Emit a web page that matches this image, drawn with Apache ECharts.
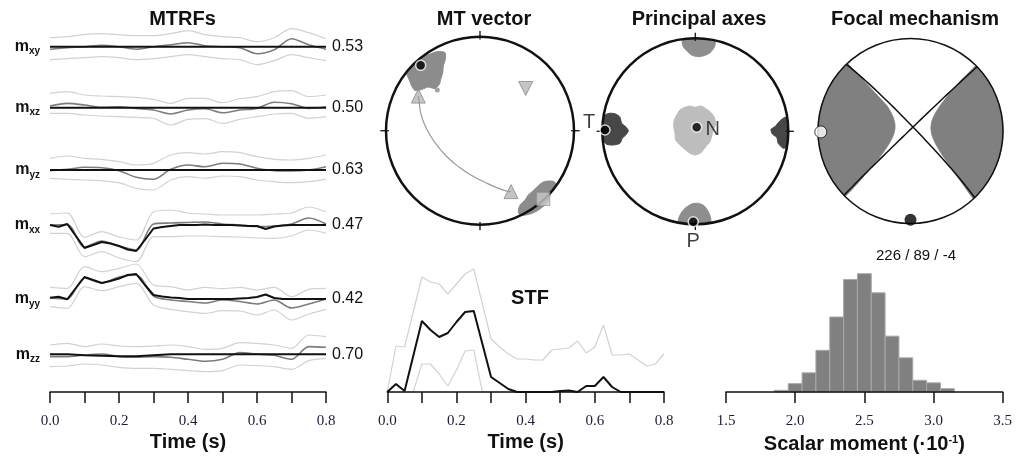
<!DOCTYPE html>
<html><head><meta charset="utf-8">
<script src="https://cdn.jsdelivr.net/npm/echarts@6.0.0/dist/echarts.min.js"></script>
<style>html,body{margin:0;padding:0;background:#fff}#c{width:1018px;height:464px}</style>
</head><body><div id="c"></div>
<script>
// ---------------- DATA ----------------
const timeCoarse = [0,0.05,0.1,0.15,0.2,0.25,0.3,0.35,0.4,0.45,0.5,0.55,0.6,0.65,0.7,0.75,0.8];
const timeFine = [0,0.025,0.05,0.075,0.1,0.125,0.15,0.175,0.2,0.225,0.25,0.275,0.3,0.325,0.35,0.375,0.4,0.425,0.45,0.475,0.5,0.525,0.55,0.575,0.6,0.625,0.65,0.675,0.7,0.725,0.75,0.775,0.8];
const timeTicks = [0,0.2,0.4,0.6,0.8];

const componentNames = ['xy','xz','yz','xx','yy','zz'];
const componentScores = ['0.53','0.50','0.63','0.47','0.42','0.70'];

const mxyTrue  = [0,0,0,0,0,0,0,0,0,0,0,0,0,0,0,0,0];
const mxyMean  = [-2.5,-1,0,1.5,0,-2.5,0,2,4,1,0,-1,-7,-3,8,2,-2.5];
const mxyUpper = [9,10,12,13,12,11,11,13,16,12,10,9,5,9,18,14,8];
const mxyLower = [-13,-12,-11,-10,-11,-13,-12,-10,-8,-10,-12,-13,-18,-14,-8,-11,-14];

const mxzTrue  = [0,0,0,0,0,0,0,0,0,0,0,0,0,0,0,0,0];
const mxzMean  = [1.7,4.3,2.7,0.3,1,-0.7,-2.3,-6.3,-2.3,-1,-5,-2.3,-0.7,5.5,4,-0.7,1];
const mxzUpper = [14.3,16,12.7,11.7,11,10.3,8.3,4.3,9.3,9.3,5,9,11,16,17,11,12.7];
const mxzLower = [-5.7,-5.7,-7.3,-8.3,-9,-9.7,-10.7,-17.3,-11.7,-11,-15.7,-11.7,-9,-6.3,-5.7,-10.7,-9];

const myzTrue  = [0,0,0,0,0,0,0,0,0,0,0,0,0,0,0,0,0];
const myzMean  = [-0.7,0.7,2.7,2.3,-0.7,-7.3,-9.3,0.7,5,3.3,6.7,6,1.7,-0.7,-1,0,3.3];
const myzUpper = [11.7,14,11.7,10.7,8.3,5,6.7,15,17.3,16,18.3,17.3,13.3,10.7,10,11.7,15];
const myzLower = [-8.3,-9.3,-10,-10.7,-12.7,-18.3,-20,-10,-6.7,-8.3,-6,-6.7,-10,-11.7,-12.7,-11.7,-9.3];

const mxxTrue  = [0,-1.7,1,-11,-23,-20,-17,-18.5,-21,-24.5,-26,-15,-3.5,-2,-1,0,0,0,0.5,0,0,0,-0.5,-1,-1,-4,-1.5,-0.5,0,0,0,0,0];
const mxxMean  = [0,0.5,-22,-16,-21,-25,1,2,2.5,3,1,0,-1.5,-1,1,7,1];
const mxxUpper = [11,12,-12.3,-6.7,-12,-15,13,15,12,11,10,10,10,11,12,18,13];
const mxxLower = [-8.3,-8.3,-31.7,-26.7,-33,-36.7,-11.7,-11.7,-11,-11,-11.7,-12,-13,-13.3,-11,-5,-8.3];

const myyTrue  = [1.3,2.3,-0.3,11,22,19,16,18,20.5,24,25,14,4,2.5,1.5,1,0,0,0,0,0,0,0.5,1,2,4.5,1,0,0,0,0,0,0];
const myyMean  = [1,0,21,16,22,24,3,-1,-2.5,-4,-1,-2.5,-5,-1,-9,-5,0];
const myyUpper = [11.7,10.7,32.3,27.3,30.7,35,14,12.3,9,11.7,10.3,11.7,9,11.7,2.3,9.7,10.7];
const myyLower = [-7.7,-9.3,12.3,8.3,12.3,15.7,-6,-10.3,-12.7,-14.3,-11.7,-12,-16,-11,-21,-15,-10.3];

const mzzTrue  = [0,0,-1,-1.5,-2,-2,-1,0,0,0,0,0,0,0,0,0,0];
const mzzMean  = [-2.3,-2.3,-0.7,0.3,-2.3,-3,-2.3,-3,-5,-7,-5,1.7,0.3,-1,-5,7.7,7];
const mzzUpper = [9.3,11,7.7,10.3,8.3,7.7,8.3,9.3,7.7,5,6,11.7,11,9.3,6,19.3,17.7];
const mzzLower = [-12.3,-11.7,-9.7,-10.7,-13,-14,-14,-15,-16.3,-17.3,-16.3,-10.7,-11.3,-12.3,-15,-6.3,-4];

const stfMedian = [0,8,1,36,71,62,55,59,70,80,81,48,15,9,3,0,0,0,0,0,1,1.5,0,6,6,15,5,0,0,0,0,0,0];
const stfUpper  = [0,46,45,80,115,110,108,98,108,118,123,88,53,45,38,33,33,32,32,42,43,44,51,39,45,67,37,37,38,32,26,28,38];
const stfLower  = [0,0,0,0,28,28,18,6,22,41,42,0,0,0,0,0,0,0,0,0,0,0,0,0,0,0,0,0,0,0,0,0,0];

const momentBins   = [1.9,2.0,2.1,2.2,2.3,2.4,2.5,2.6,2.7,2.8,2.9,3.0,3.1];
const momentCounts = [4,20,46,100,180,270,284,238,134,82,28,22,8];
const momentTicks  = [1.5,2.0,2.5,3.0,3.5];

// MT vector panel (unit-disk coordinates)
const mtCloudA = [[-0.763,0.564],[-0.780,0.606],[-0.737,0.678],[-0.681,0.742],[-0.620,0.785],[-0.539,0.813],[-0.454,0.842],[-0.372,0.831],[-0.369,0.759],[-0.390,0.689],[-0.397,0.617],[-0.418,0.545],[-0.433,0.492],[-0.479,0.449],[-0.550,0.464],[-0.620,0.439],[-0.691,0.428],[-0.727,0.475],[-0.745,0.521]];
const mtCloudB = [[0.407,-0.856],[0.426,-0.791],[0.479,-0.738],[0.514,-0.684],[0.561,-0.642],[0.610,-0.595],[0.667,-0.549],[0.727,-0.535],[0.787,-0.541],[0.809,-0.578],[0.773,-0.631],[0.745,-0.684],[0.727,-0.749],[0.681,-0.798],[0.620,-0.845],[0.550,-0.880],[0.479,-0.898],[0.426,-0.898]];
const mtStray = [[-0.454,0.432]];
const mtBest = [[-0.631,0.695]];
const mtUpTriangles = [[-0.656,0.368],[0.330,-0.648]];
const mtDownTriangle = [[0.486,0.449]];
const mtSquare = [[0.673,-0.727]];
const mtArc = [[-0.656,0.368],[-0.646,0.296],[-0.631,0.189],[-0.596,0.082],[-0.539,-0.035],[-0.461,-0.150],[-0.354,-0.274],[-0.231,-0.381],[-0.088,-0.477],[0.053,-0.549],[0.178,-0.605],[0.284,-0.642],[0.330,-0.648]];

// Principal axes panel
const paPCloudTop = [[-0.140,0.974],[-0.129,0.910],[-0.082,0.856],[-0.039,0.820],[0.032,0.802],[0.104,0.817],[0.158,0.845],[0.204,0.903],[0.212,0.963],[0.104,0.995],[-0.003,1.0],[-0.092,0.996]];
const paPCloudBottom = [[-0.183,-0.961],[-0.154,-0.882],[-0.111,-0.828],[-0.039,-0.782],[0.032,-0.774],[0.097,-0.803],[0.140,-0.865],[0.166,-0.935],[0.158,-0.989],[0.069,-1.0],[-0.022,-1.0],[-0.111,-0.995]];
const paTCloudLeft = [[-0.971,0.175],[-0.917,0.194],[-0.856,0.186],[-0.810,0.151],[-0.792,0.086],[-0.748,0.049],[-0.720,0.006],[-0.748,-0.040],[-0.785,-0.075],[-0.810,-0.129],[-0.882,-0.147],[-0.953,-0.140],[-0.992,-0.094],[-1.0,0.014],[-0.992,0.122]];
const paTCloudRight = [[0.972,0.151],[0.929,0.129],[0.886,0.086],[0.857,0.049],[0.814,0.022],[0.828,-0.029],[0.875,-0.065],[0.892,-0.129],[0.946,-0.183],[0.985,-0.166],[1.0,-0.058],[1.0,0.049]];
const paNCloud = [[-0.165,0.229],[-0.111,0.258],[-0.057,0.272],[-0.003,0.258],[0.061,0.272],[0.123,0.237],[0.176,0.194],[0.204,0.151],[0.219,0.078],[0.194,0.014],[0.176,-0.051],[0.158,-0.112],[0.112,-0.166],[0.061,-0.230],[-0.003,-0.255],[-0.057,-0.237],[-0.111,-0.194],[-0.165,-0.147],[-0.211,-0.094],[-0.218,-0.022],[-0.232,0.049],[-0.226,0.122],[-0.200,0.175]];
const paAxes = [['T',-0.971,0.014],['N',0.015,0.043],['P',-0.022,-0.972]];

// Focal mechanism
const fmStrike = 226, fmDip = 89, fmRake = -4;
const fmNonDC = 0.08;
const fmTAxis = [[-0.97,-0.01]];
const fmPAxis = [[0.0,-0.96]];

// ---------------- HELPERS ----------------
const d2r = Math.PI/180;
const pairs = (t, v) => v.map((y,i)=>[t[i], y]);
const timeFor = v => v.length === timeFine.length ? timeFine : timeCoarse;
const dot = (a,b) => a[0]*b[0]+a[1]*b[1]+a[2]*b[2];
const norm = v => { const m = Math.hypot(v[0],v[1],v[2]); return v.map(x=>x/m); };

function faultVectors(strike, dip, rake){
  const f=strike*d2r, dl=dip*d2r, l=rake*d2r;
  const n=[-Math.sin(dl)*Math.sin(f), Math.sin(dl)*Math.cos(f), -Math.cos(dl)];
  const s=[Math.cos(l)*Math.cos(f)+Math.sin(l)*Math.cos(dl)*Math.sin(f),
           Math.cos(l)*Math.sin(f)-Math.sin(l)*Math.cos(dl)*Math.cos(f),
           -Math.sin(l)*Math.sin(dl)];
  const T=norm(n.map((x,i)=>x+s[i])), P=norm(n.map((x,i)=>x-s[i]));
  const B=[n[1]*s[2]-n[2]*s[1], n[2]*s[0]-n[0]*s[2], n[0]*s[1]-n[1]*s[0]];
  return {n,s,T,P,B};
}
function project(v){
  let [N,E,D]=v; if(D<0){N=-N;E=-E;D=-D;}
  const inc=Math.acos(Math.min(1,D)); const r=Math.SQRT2*Math.sin(inc/2);
  const h=Math.hypot(N,E)||1; return [r*E/h, r*N/h];
}
const dirAt = (az, inc) => [Math.sin(inc)*Math.cos(az), Math.sin(inc)*Math.sin(az), Math.cos(inc)];
function planeCurve(strike, dip){
  const s=strike*d2r, dl=dip*d2r, pts=[];
  const sv=[Math.cos(s),Math.sin(s),0];
  const dv=[Math.cos(dl)*Math.cos(s+Math.PI/2), Math.cos(dl)*Math.sin(s+Math.PI/2), Math.sin(dl)];
  for(let t=0;t<=180;t+=2){const th=t*d2r; pts.push(project(sv.map((x,i)=>Math.cos(th)*x+Math.sin(th)*dv[i])));}
  return pts;
}
function compressionPolygons(vec, lam){
  const amp=v=>lam[0]*dot(v,vec.T)**2+lam[1]*dot(v,vec.P)**2+lam[2]*dot(v,vec.B)**2;
  const edge=a=>amp(dirAt(a*d2r,Math.PI/2));
  let a0=0; while(edge(a0)>0 && a0<360) a0+=1;
  const polys=[]; let cur=null;
  for(let k=0;k<=360;k+=0.5){
    const a=a0+k;
    if(edge(a)>0){
      let lo=0, hi=Math.PI/2;
      if(amp(dirAt(a*d2r,0))>0) hi=0;
      else for(let it=0;it<40;it++){const m=(lo+hi)/2; if(amp(dirAt(a*d2r,m))>0) hi=m; else lo=m;}
      const r=Math.SQRT2*Math.sin(hi/2);
      if(!cur) cur={inner:[],az:[]};
      cur.inner.push([r*Math.sin(a*d2r), r*Math.cos(a*d2r)]); cur.az.push(a);
    } else if(cur){polys.push(cur);cur=null;}
  }
  if(cur) polys.push(cur);
  return polys.map(p=>p.inner.concat(p.az.slice().reverse().map(a=>[Math.sin(a*d2r),Math.cos(a*d2r)])));
}

// ---------------- LAYOUT ----------------
const rowBase = [46.7,107.7,170,225,299,354.3];
const rowHalf = 40;
const mtrf = [
  [mxyTrue,mxyMean,mxyUpper,mxyLower],[mxzTrue,mxzMean,mxzUpper,mxzLower],[myzTrue,myzMean,myzUpper,myzLower],
  [mxxTrue,mxxMean,mxxUpper,mxxLower],[myyTrue,myyMean,myyUpper,myyLower],[mzzTrue,mzzMean,mzzUpper,mzzLower]];

const ink='#111', tickColor='#1c1c3a';
const axisLine={show:true,lineStyle:{color:ink,width:1.5}};
const axisTick={show:true,length:11,lineStyle:{color:ink,width:1.5}};
const serifLabel={fontFamily:'Liberation Serif',fontSize:15,color:tickColor,margin:22};
const nameStyle={fontFamily:'Liberation Sans',fontSize:20,fontWeight:'bold',color:ink};

const grid=[], xAxis=[], yAxis=[], series=[];
const hidden = (g, min, max) => ({gridIndex:g,type:'value',min,max,show:false});

// rows
rowBase.forEach((b,i)=>{
  grid.push({left:50,width:276,top:b-rowHalf,height:rowHalf*2});
  xAxis.push(hidden(i,0,0.8));
});
rowBase.forEach((b,i)=>{
  yAxis.push({gridIndex:i,type:'value',min:-rowHalf,max:rowHalf,interval:rowHalf,
    axisLine:{show:false},axisTick:{show:false},splitLine:{show:false},
    axisLabel:{margin:10,formatter:v=>v===0?'{m|m}{s|'+componentNames[i]+'}':'',
      rich:{m:{fontFamily:'Liberation Sans',fontSize:16,fontWeight:'bold',color:ink,lineHeight:24,verticalAlign:'middle'},
            s:{fontFamily:'Liberation Sans',fontSize:10,fontWeight:'bold',color:ink,lineHeight:10,padding:[12,0,0,0],verticalAlign:'top'}}}});
});
rowBase.forEach((b,i)=>{
  yAxis.push({gridIndex:i,type:'value',position:'right',min:-rowHalf,max:rowHalf,interval:rowHalf,
    axisLine:{show:false},axisTick:{show:false},splitLine:{show:false},
    axisLabel:{margin:6,fontFamily:'Liberation Sans',fontSize:16,color:ink,formatter:v=>v===0?componentScores[i]:''}});
});
mtrf.forEach((r,i)=>{
  const [tr,mean,up,lo]=r;
  const common={type:'line',xAxisIndex:i,yAxisIndex:i,showSymbol:false,clip:false,silent:true,animation:false};
  series.push({...common,data:pairs(timeFor(up),up),smooth:0.3,lineStyle:{color:'#d2d2d2',width:1.2}});
  series.push({...common,data:pairs(timeFor(lo),lo),smooth:0.3,lineStyle:{color:'#d2d2d2',width:1.2}});
  series.push({...common,data:pairs(timeFor(mean),mean),smooth:0.3,lineStyle:{color:'#7c7c7c',width:1.6}});
  series.push({...common,data:pairs(timeFor(tr),tr),lineStyle:{color:ink,width:2}});
});

const timeLabel = v => timeTicks.some(t=>Math.abs(t-v)<1e-6) ? v.toFixed(1) : '';
// MTRF time axis (grid 6)
grid.push({left:50,width:276,top:380,height:12});
xAxis.push({gridIndex:6,type:'value',min:0,max:0.8,interval:0.1,z:10,axisLine,axisTick,splitLine:{show:false},
  axisLabel:{...serifLabel,formatter:timeLabel},name:'Time (s)',nameLocation:'middle',nameGap:40,nameTextStyle:nameStyle});
yAxis.push(hidden(6,0,1));

// STF (grid 7)
grid.push({left:387.3,width:276.7,top:252,height:140});
xAxis.push({gridIndex:7,type:'value',min:0,max:0.8,interval:0.1,z:10,axisLine,axisTick,splitLine:{show:false},
  axisLabel:{...serifLabel,formatter:timeLabel},name:'Time (s)',nameLocation:'middle',nameGap:40,nameTextStyle:nameStyle});
yAxis.push(hidden(7,0,140));
const stfCommon={type:'line',xAxisIndex:7,yAxisIndex:13,showSymbol:false,clip:false,silent:true,animation:false};
series.push({...stfCommon,data:pairs(timeFine,stfUpper),lineStyle:{color:'#d2d2d2',width:1.2}});
series.push({...stfCommon,data:pairs(timeFine,stfLower),lineStyle:{color:'#d2d2d2',width:1.2}});
series.push({...stfCommon,data:pairs(timeFine,stfMedian),lineStyle:{color:ink,width:2}});

// Histogram (grid 8)
grid.push({left:726,width:276.7,top:260,height:132});
xAxis.push({gridIndex:8,type:'value',min:1.5,max:3.5,interval:0.5,z:10,axisLine,axisTick,splitLine:{show:false},
  axisLabel:{...serifLabel,formatter:v=>v.toFixed(1)},
  name:'{n|Scalar moment (·10}{s|-1}{n|)}',nameLocation:'middle',nameGap:40,
  nameTextStyle:{rich:{n:{...nameStyle,lineHeight:24,verticalAlign:'middle'},
                       s:{fontFamily:'Liberation Sans',fontSize:11,fontWeight:'bold',color:ink,lineHeight:11,verticalAlign:'top',padding:[2,0,0,0]}}}});
yAxis.push(hidden(8,0,316.8));
series.push({type:'custom',xAxisIndex:8,yAxisIndex:14,clip:false,silent:true,animation:false,
  data:momentBins.map((b,i)=>[b,momentCounts[i]]),
  renderItem:(p,api)=>{const c=api.value(0),h=api.value(1);
    const a=api.coord([c-0.05,h]), b=api.coord([c+0.05,0]);
    return {type:'rect',shape:{x:a[0],y:a[1],width:b[0]-a[0],height:b[1]-a[1]},style:{fill:'#808080',stroke:'#a8a8a8',lineWidth:1}};}});

// circle panels (grids 9,10,11)
const circles=[{cx:480,cy:130.7,r:94},{cx:695.3,cy:131.3,r:93},{cx:910.5,cy:131,r:92.5}];
circles.forEach((c,k)=>{
  grid.push({left:c.cx-c.r,top:c.cy-c.r,width:2*c.r,height:2*c.r});
  xAxis.push(hidden(9+k,-1,1)); yAxis.push(hidden(9+k,-1,1));
});
const ax = k => ({xAxisIndex:9+k,yAxisIndex:15+k});
function ring(k,lw,ticks){
  return {type:'custom',...ax(k),clip:false,silent:true,animation:false,data:[[0,0]],
    renderItem:(p,api)=>{const c=api.coord([0,0]); const r=api.size([1,1])[0];
      const ch=[{type:'circle',shape:{cx:c[0],cy:c[1],r:r},style:{fill:'transparent',stroke:ink,lineWidth:lw}}];
      if(ticks)[[0,1],[0,-1],[1,0],[-1,0]].forEach(([dx,dy])=>ch.push({type:'line',
        shape:{x1:c[0]+dx*r*0.97,y1:c[1]-dy*r*0.97,x2:c[0]+dx*r*1.06,y2:c[1]-dy*r*1.06},style:{stroke:ink,lineWidth:1.3}}));
      return {type:'group',children:ch};}};
}
function blob(k,pts,color,smooth){
  return {type:'custom',...ax(k),clip:false,silent:true,animation:false,data:[pts[0]],
    renderItem:(p,api)=>({type:'polygon',shape:{points:pts.map(q=>api.coord(q)),smooth:smooth||0},style:{fill:color,stroke:color,lineWidth:1}})};
}
const scatter=(k,data,o)=>({type:'scatter',...ax(k),data,silent:true,animation:false,clip:false,...o});

// MT vector
series.push(blob(0,mtCloudA,'#8c8c8c',0.25));
series.push(blob(0,mtCloudB,'#8c8c8c',0.25));
series.push(scatter(0,mtStray,{symbolSize:5,itemStyle:{color:'#8c8c8c'}}));
series.push({type:'line',...ax(0),data:mtArc,smooth:true,showSymbol:false,clip:false,silent:true,animation:false,lineStyle:{color:'#9a9a9a',width:1.2}});
series.push(ring(0,2.5,true));
series.push(scatter(0,mtUpTriangles,{symbol:'triangle',symbolSize:14,itemStyle:{color:'#b7b7b7',borderColor:'#8a8a8a',borderWidth:1}}));
series.push(scatter(0,mtDownTriangle,{symbol:'triangle',symbolRotate:180,symbolSize:14,itemStyle:{color:'#b7b7b7',borderColor:'#8a8a8a',borderWidth:1}}));
series.push(scatter(0,mtSquare,{symbol:'rect',symbolSize:13,itemStyle:{color:'#c9c9c9',borderColor:'#999',borderWidth:1}}));
series.push(scatter(0,mtBest,{symbolSize:10,itemStyle:{color:'#000',borderColor:'#fff',borderWidth:1.5}}));

// Principal axes
series.push(blob(1,paPCloudTop,'#8e8e8e',0.25));
series.push(blob(1,paPCloudBottom,'#8e8e8e',0.25));
series.push(blob(1,paTCloudLeft,'#474747',0.25));
series.push(blob(1,paTCloudRight,'#474747',0.25));
series.push(blob(1,paNCloud,'#bdbdbd',0.25));
series.push(ring(1,2.5,true));
const labelPos={T:{position:'left',distance:4,offset:[0,-8]},N:{position:'right',distance:3,offset:[0,2]},P:{position:'bottom',distance:4}};
series.push(scatter(1,paAxes.map(a=>({name:a[0],value:[a[1],a[2]],label:{show:true,formatter:a[0],fontFamily:'Liberation Sans',fontSize:20,color:ink,...labelPos[a[0]]}})),
  {symbolSize:10,itemStyle:{color:'#000',borderColor:'#fff',borderWidth:1.5}}));

// Focal mechanism
const fv=faultVectors(fmStrike,fmDip,fmRake);
compressionPolygons(fv,[1,-(1-fmNonDC),-fmNonDC]).forEach(poly=>series.push(blob(2,poly,'#808080',0)));
let aux=fv.s.slice(); if(aux[2]>0) aux=aux.map(x=>-x);
const auxStrike=Math.atan2(-aux[0],aux[1])/d2r, auxDip=Math.acos(-aux[2])/d2r;
[planeCurve(fmStrike,fmDip),planeCurve(auxStrike,auxDip)].forEach(pl=>series.push({type:'line',...ax(2),data:pl,showSymbol:false,clip:false,silent:true,animation:false,lineStyle:{color:ink,width:1.5}}));
series.push(ring(2,1.5,false));
series.push(scatter(2,fmTAxis,{symbolSize:12,itemStyle:{color:'#fff',borderColor:ink,borderWidth:1}}));
series.push(scatter(2,fmPAxis,{symbolSize:12,itemStyle:{color:'#000'}}));

const title=[
  {text:'MTRFs',left:177.5,top:4},
  {text:'MT vector',left:479,top:4},
  {text:'Principal axes',left:694,top:4},
  {text:'Focal mechanism',left:910,top:4},
  {text:'STF',left:525,top:283}
].map(t=>({...t,textAlign:'center',textStyle:{...nameStyle}}));
title.push({text:fmStrike+' / '+fmDip+' / '+fmRake,left:911,top:243,textAlign:'center',textStyle:{fontFamily:'Liberation Sans',fontSize:15,fontWeight:'normal',color:ink}});

const chart=echarts.init(document.getElementById('c'),null,{renderer:'canvas',width:1018,height:464});
chart.setOption({backgroundColor:'#fff',animation:false,title,grid,xAxis,yAxis,series});
</script></body></html>
